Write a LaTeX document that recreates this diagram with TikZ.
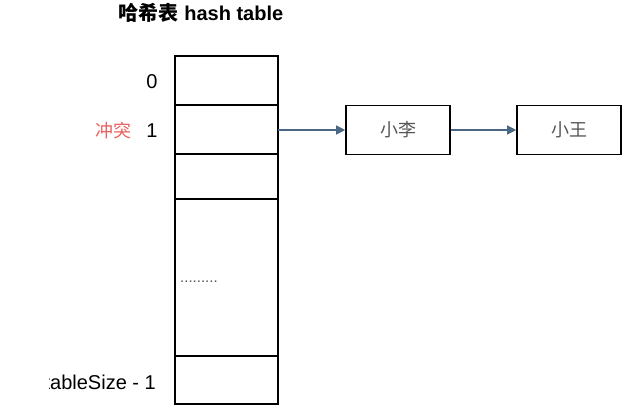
\documentclass[tikz,border=0pt]{standalone}
\usepackage{fontspec}
\setmainfont{Liberation Sans}
\newfontfamily\cjk{Noto Sans CJK SC}
\usetikzlibrary{arrows.meta}
\definecolor{arrowblue}{HTML}{4A6884}
\definecolor{txtgray}{HTML}{555555}
\definecolor{conflictred}{HTML}{E8605E}
\begin{document}
\begin{tikzpicture}[x=1pt,y=-1pt,
  cell/.style={draw=black,line width=1.6pt,fill=white},
  listbox/.style={draw=black,line width=1.6pt,minimum width=104pt,minimum height=49pt,inner sep=0pt,font=\cjk\fontsize{18}{20}\selectfont,text=txtgray},
  lbl/.style={font=\fontsize{20}{24}\selectfont,inner sep=0pt},
  link/.style={draw=arrowblue,line width=1.2pt,-{Triangle[length=9pt,width=9pt]}}]
\useasboundingbox (0,0) rectangle (641,414);
\node[font=\bfseries\fontsize{20}{24}\selectfont,inner sep=0pt] (title) at (201,13) {{\cjk\bfseries 哈希表} hash table};
% table
\draw[cell] (175,56) rectangle (278,404);
\draw[line width=1.6pt] (175,105) -- (278,105);
\draw[line width=1.6pt] (175,154) -- (278,154);
\draw[line width=1.6pt] (175,199) -- (278,199);
\draw[line width=1.6pt] (175,356) -- (278,356);
\coordinate (slot1) at (278,130);
\node[lbl] (i0) at (152,82) {0};
\node[lbl] (i1) at (152,131) {1};
\node[font=\cjk\fontsize{18}{20}\selectfont,text=conflictred,inner sep=0pt] (conf) at (113,131) {冲突};
\begin{scope}
\clip (49,360) rectangle (170,404);
\node[lbl,anchor=east] (ilast) at (156,382) {tableSize - 1};
\end{scope}
\node[font=\fontsize{15}{16}\selectfont,text=txtgray,inner sep=0pt,anchor=west] (dots) at (180,282) {.........};
% list
\node[listbox] (li) at (398,130) {小李};
\node[listbox] (wang) at (569,130) {小王};
\draw[link] (slot1) -- (li.west);
\draw[link] (li.east) -- (wang.west);
\end{tikzpicture}
\end{document}
